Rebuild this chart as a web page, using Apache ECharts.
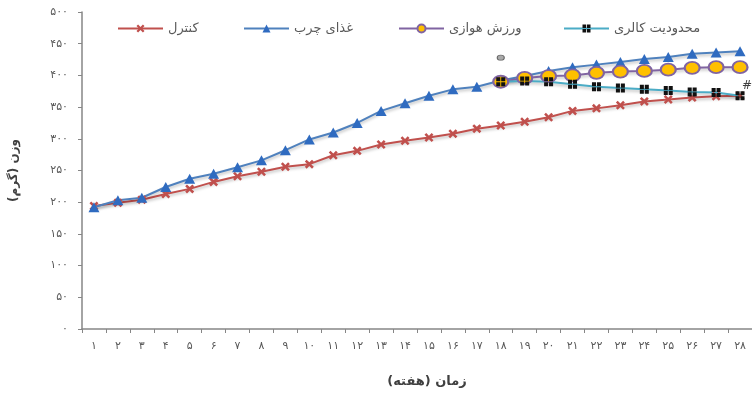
<!DOCTYPE html>
<html><head><meta charset="utf-8">
<script src="https://cdn.jsdelivr.net/npm/echarts@6/dist/echarts.min.js"></script>
<style>html,body{margin:0;padding:0;background:#fff}#c{width:752px;height:393px}</style>
</head><body><div id="c"></div>
<script>
const weeks = ['۱','۲','۳','۴','۵','۶','۷','۸','۹','۱۰','۱۱','۱۲','۱۳','۱۴','۱۵','۱۶','۱۷','۱۸','۱۹','۲۰','۲۱','۲۲','۲۳','۲۴','۲۵','۲۶','۲۷','۲۸'];
const yTickLabels = ['۰','۵۰','۱۰۰','۱۵۰','۲۰۰','۲۵۰','۳۰۰','۳۵۰','۴۰۰','۴۵۰','۵۰۰'];
const seriesNames = ['کنترل','غذای چرب','ورزش هوازی','محدودیت کالری'];
const control = [194,199,204,213,221,232,241,248,256,260,274,281,291,297,302,308,316,321,327,334,344,348,353,359,362,365,367,368];
const highFat = [192,203,207,224,237,245,255,266,282,299,310,325,344,356,368,378,382,392,399,407,413,417,421,426,429,434,436,438];
const aerobic = [null,null,null,null,null,null,null,null,null,null,null,null,null,null,null,null,null,390,396,399,400,404,406,407,409,412,413,413];
const calorie = [null,null,null,null,null,null,null,null,null,null,null,null,null,null,null,null,null,390,391,390,386,382,380,378,376,374,373,368];
const starNote = {week: 17, value: 428, text: ''};
const hashNote = {week: 27, value: 383, text: '#'};
const xName = 'زمان (هفته)';
const yName = 'وزن (گرم)';

const FONT = 'DejaVu Sans';
const crossPath = 'path://M2,0 L5,3 L8,0 L10,2 L7,5 L10,8 L8,10 L5,7 L2,10 L0,8 L3,5 L0,2 Z';
const checkPath = 'path://M0,0 H4.5 V4.5 H0 Z M5.5,0 H10 V4.5 H5.5 Z M0,5.5 H4.5 V10 H0 Z M5.5,5.5 H10 V10 H5.5 Z';
const shadow = {shadowColor:'rgba(0,0,0,0.25)', shadowBlur:3, shadowOffsetY:2};

const chart = echarts.init(document.getElementById('c'), null, {renderer:'canvas'});
function mkLegend(name, left){
  return {data:[name], left:left, top:17, itemWidth:45, itemHeight:10, itemGap:0,
    textStyle:{fontFamily:FONT, fontSize:13, color:'#595959'}};
}
chart.setOption({
  animation:false,
  legend:[mkLegend(seriesNames[0],112), mkLegend(seriesNames[1],238), mkLegend(seriesNames[2],393), mkLegend(seriesNames[3],558)],
  grid:{left:81, right:-1, top:12, bottom:58, containLabel:false},
  xAxis:{type:'category', data:weeks, boundaryGap:true,
    axisLine:{lineStyle:{color:'#868686', width:1.5}},
    axisTick:{show:true, length:4, inside:false, lineStyle:{color:'#868686'}},
    axisLabel:{fontFamily:FONT, fontSize:11, color:'#595959', margin:12, interval:0},
    name:xName, nameLocation:'middle', nameGap:46,
    nameTextStyle:{fontFamily:FONT, fontSize:13, fontWeight:'bold', color:'#404040', padding:[0,0,0,20]}
  },
  yAxis:{type:'value', min:0, max:500, interval:50,
    axisLine:{show:true, lineStyle:{color:'#868686', width:1.5}},
    axisTick:{show:true, length:4, lineStyle:{color:'#868686'}},
    splitLine:{show:false},
    axisLabel:{fontFamily:FONT, fontSize:11, color:'#595959', margin:14,
      formatter:(v)=>yTickLabels[Math.round(v/50)]},
    name:yName, nameLocation:'middle', nameGap:62, nameRotate:90,
    nameTextStyle:{fontFamily:FONT, fontSize:12, fontWeight:'bold', color:'#404040'}
  },
  series:[
    {name:seriesNames[0], type:'line', data:control, symbol:crossPath, symbolSize:9,
      lineStyle:Object.assign({color:'#C0504D', width:2}, shadow),
      itemStyle:{color:'#C0504D'}},
    {name:seriesNames[1], type:'line', data:highFat, symbol:'triangle', symbolSize:[11,10],
      lineStyle:Object.assign({color:'#4F81BD', width:2}, shadow),
      itemStyle:{color:'#2F6BC0'},
      markPoint:{symbol:'circle', symbolSize:[7,5], itemStyle:{color:'#aaa', borderColor:'#666', borderWidth:1},
        label:{show:false},
        data:[{coord:[starNote.week, starNote.value]}]}},
    {name:seriesNames[2], type:'line', data:aerobic, symbol:'circle', symbolSize:[15,12],
      lineStyle:Object.assign({color:'#8064A2', width:2}, shadow),
      itemStyle:{color:'#FFC000', borderColor:'#8064A2', borderWidth:2}},
    {name:seriesNames[3], type:'line', data:calorie, symbol:checkPath, symbolSize:9,
      lineStyle:Object.assign({color:'#4BACC6', width:2}, shadow),
      itemStyle:{color:'#111'},
      markPoint:{symbol:'circle', symbolSize:1, itemStyle:{color:'rgba(0,0,0,0)'},
        label:{show:true, formatter:hashNote.text, offset:[7,0], fontFamily:FONT, fontSize:12, color:'#404040'},
        data:[{coord:[hashNote.week, hashNote.value]}]}}
  ]
});
</script></body></html>
